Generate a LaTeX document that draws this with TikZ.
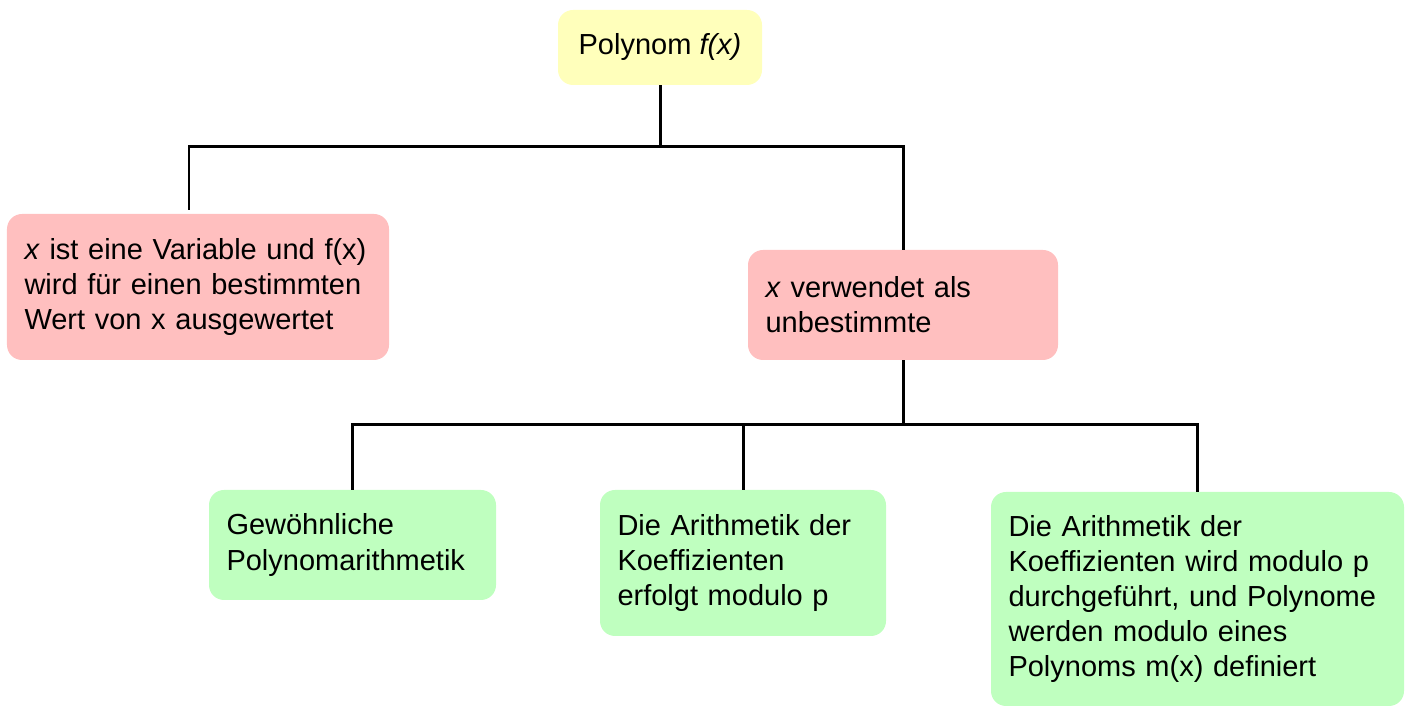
\documentclass[tikz,border=0pt]{standalone}
\usepackage{fontspec}
\setmainfont{Liberation Sans}
\usepackage{tikz}
\usetikzlibrary{calc}

\definecolor{boxyellow}{HTML}{FFFFBB}
\definecolor{boxred}{HTML}{FFBFBF}
\definecolor{boxgreen}{HTML}{BFFFBF}

\tikzset{
  box/.style={rounded corners=0.3cm, inner xsep=0.35cm, inner ysep=0pt,
    align=left, font=\fontsize{16.5pt}{20pt}\selectfont},
  yellowbox/.style={box, fill=boxyellow, align=center},
  redbox/.style={box, fill=boxred},
  greenbox/.style={box, fill=boxgreen},
  conn/.style={line width=1.7pt}
}

\begin{document}
\begin{tikzpicture}
\useasboundingbox (0,0) rectangle (28.14,14.12);

\draw (13.2,13.17) node[yellowbox,minimum width=4.08cm,minimum height=1.5cm] (poly) {Polynom \textit{f(x)}};

\draw (3.96,8.38) node[redbox,text width=6.94cm,minimum height=2.92cm] (eval)
  {\textit{x} ist eine Variable und f(x)\\wird für einen bestimmten\\Wert von x ausgewertet};
\draw (18.06,8.02) node[redbox,text width=5.5cm,minimum height=2.2cm] (unbest)
  {\textit{x} verwendet als\\unbestimmte};

\draw (7.05,3.22) node[greenbox,text width=5.04cm,minimum height=2.2cm] (gew)
  {Gewöhnliche\\Polynomarithmetik};
\draw (14.86,2.86) node[greenbox,text width=5.02cm,minimum height=2.92cm] (modp)
  {Die Arithmetik der\\Koeffizienten\\erfolgt modulo p};
\draw (23.95,2.14) node[greenbox,text width=7.56cm,minimum height=4.28cm] (modm)
  {Die Arithmetik der\\Koeffizienten wird modulo p\\durchgeführt, und Polynome\\werden modulo eines\\Polynoms m(x) definiert};

% Baum oben
\coordinate (j1) at (13.2,11.18);
\draw[conn] (poly.south) -- (j1);
\draw[conn] ([xshift=-0.18cm,yshift=0.08cm]eval.north) |- (j1) -| (unbest.north);

% Baum unten
\coordinate (j2) at (18.06,5.62);
\draw[conn] (unbest.south) -- (j2);
\draw[conn] (gew.north) |- (j2) -| (modm.north);
\draw[conn] (modp.north) -- (modp.north |- j2);

\end{tikzpicture}
\end{document}
